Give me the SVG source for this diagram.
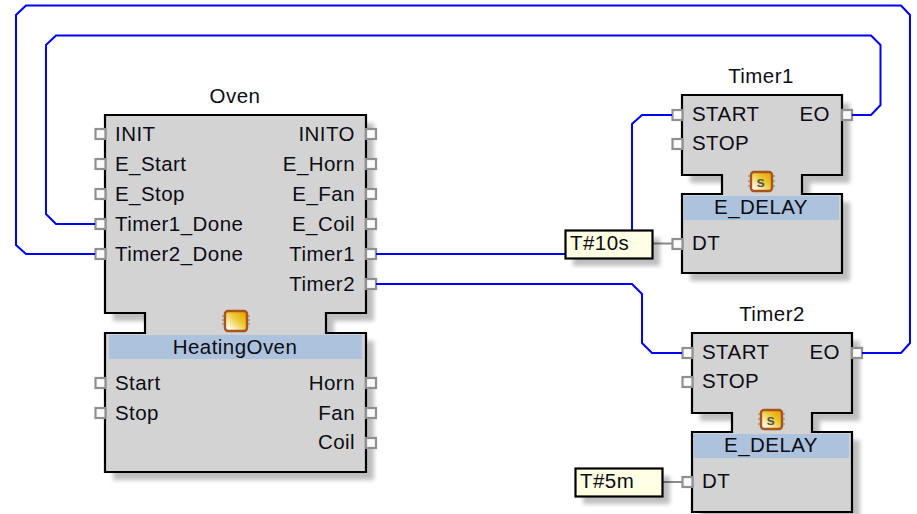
<svg xmlns="http://www.w3.org/2000/svg" width="917" height="514" viewBox="0 0 917 514">
<style>
text{font-family:"Liberation Sans",Arial,sans-serif;font-size:20.5px;letter-spacing:.45px;fill:#0c0c14}
.r{text-anchor:end}
.m{text-anchor:middle}
.body{fill:#d3d3d3;stroke:#000;stroke-width:2.2}
.shadow{fill:#000;opacity:.25;filter:url(#blur)}
.band{fill:#adc2dc}
.port{fill:#fafafa;stroke:#909090;stroke-width:2.200}
.wire{fill:none;stroke:#0000f5;stroke-width:2}
.data{fill:none;stroke:#8a8a8a;stroke-width:2}
.const{fill:#ffffe4;stroke:#000;stroke-width:2.200}
.ico{fill:url(#ig);stroke:#a8541c;stroke-width:2.400}
.pin{fill:none;stroke:#8a7a60;stroke-width:1}
.s{font-size:15px;font-weight:700;fill:#555}
</style>
<defs>
<filter id="blur" x="-10%" y="-10%" width="120%" height="120%"><feGaussianBlur stdDeviation="2"/></filter>
<linearGradient id="ig" x1="0" y1="1" x2="1" y2="0"><stop offset=".1" stop-color="#fff"/><stop offset=".6" stop-color="#ecc62a"/><stop offset="1" stop-color="#e89a00"/></linearGradient>
</defs>
<g id="oven">
<path class="shadow" d="M113 123H374V321H334V341H374V480H113V341H153V321H113Z"/>
<path class="body" d="M105 115H366V313H326V333H366V472H105V333H145V313H105Z"/>
<rect class="band" x="109" y="335" width="253" height="24"/>
<text class="m" x="235" y="103">Oven</text>
<g><path class="pin" d="M222 316h3M222 320h3M222 324h3M247 316h3M247 320h3M247 324h3"/><rect class="ico" x="225" y="311" width="22" height="20" rx="3"/></g>
<text x="115" y="141">INIT</text><text x="115" y="170.500">E_Start</text><text x="115" y="200.500">E_Stop</text><text x="115" y="230.500">Timer1_Done</text><text x="115" y="260.500">Timer2_Done</text>
<text class="r" x="355" y="141">INITO</text><text class="r" x="355" y="170.500">E_Horn</text><text class="r" x="355" y="200.500">E_Fan</text><text class="r" x="355" y="230.500">E_Coil</text><text class="r" x="355" y="260.500">Timer1</text><text class="r" x="355" y="290.500">Timer2</text>
<text class="m" x="235" y="353.500">HeatingOven</text>
<text x="115" y="389.500">Start</text><text x="115" y="419.500">Stop</text>
<text class="r" x="355" y="389.500">Horn</text><text class="r" x="355" y="419.500">Fan</text><text class="r" x="355" y="448.500">Coil</text>
<g>
<rect class="port" x="95.500" y="129" width="10" height="10"/><rect class="port" x="95.500" y="159" width="10" height="10"/><rect class="port" x="95.500" y="189" width="10" height="10"/><rect class="port" x="95.500" y="219" width="10" height="10"/><rect class="port" x="95.500" y="249" width="10" height="10"/>
<rect class="port" x="366" y="129" width="10" height="10"/><rect class="port" x="366" y="159" width="10" height="10"/><rect class="port" x="366" y="189" width="10" height="10"/><rect class="port" x="366" y="219" width="10" height="10"/><rect class="port" x="366" y="249" width="10" height="10"/><rect class="port" x="366" y="279" width="10" height="10"/>
<rect class="port" x="95.500" y="378" width="10" height="10"/><rect class="port" x="95.500" y="408" width="10" height="10"/>
<rect class="port" x="366" y="378" width="10" height="10"/><rect class="port" x="366" y="408" width="10" height="10"/><rect class="port" x="366" y="438" width="10" height="10"/>
</g>
</g>
<g id="timer1">
<path class="shadow" d="M690 103H850V183H810V202H850V281H690V202H730V183H690Z"/>
<path class="body" d="M682 95H842V175H802V194H842V273H682V194H722V175H682Z"/>
<rect class="band" x="684" y="196" width="155" height="24"/>
<text class="m" x="761" y="83">Timer1</text>
<g><path class="pin" d="M748 176h3M748 181h3M748 186h3M772 176h3M772 181h3M772 186h3"/><rect class="ico" x="751" y="172" width="21" height="19" rx="3"/><text class="s m" x="761" y="187">s</text></g>
<text x="692" y="120.500">START</text><text x="692" y="150">STOP</text><text class="r" x="830" y="120.500">EO</text>
<text class="m" x="761" y="214">E_DELAY</text>
<text x="692" y="249.500">DT</text>
<rect class="port" x="672.500" y="110" width="10" height="10"/><rect class="port" x="672.500" y="139" width="10" height="10"/><rect class="port" x="672.500" y="239" width="10" height="10"/><rect class="port" x="842" y="110" width="10" height="10"/>
</g>
<g id="timer2">
<path class="shadow" d="M700 341H860V421H820V440H860V519H700V440H740V421H700Z"/>
<path class="body" d="M692 333H852V413H812V432H852V512H692V432H732V413H692Z"/>
<rect class="band" x="694" y="434" width="155" height="24"/>
<text class="m" x="772" y="321">Timer2</text>
<g><path class="pin" d="M758 414h3M758 419h3M758 424h3M782 414h3M782 419h3M782 424h3"/><rect class="ico" x="761" y="410" width="21" height="19" rx="3"/><text class="s m" x="771" y="425">s</text></g>
<text x="702" y="359">START</text><text x="702" y="388">STOP</text><text class="r" x="840" y="359">EO</text>
<text class="m" x="771" y="452">E_DELAY</text>
<text x="702" y="488">DT</text>
<rect class="port" x="682.500" y="348" width="10" height="10"/><rect class="port" x="682.500" y="377" width="10" height="10"/><rect class="port" x="682.500" y="477" width="10" height="10"/><rect class="port" x="852" y="348" width="10" height="10"/>
</g>
<g id="connectors">
<path class="wire" d="M95 254H26L16 245V15L26 5.500H901L910 15V343L901 353H862"/>
<path class="wire" d="M95 224H56L46 214V45L56 35.500H871L880.500 45V105L871 115H852"/>
<path class="wire" d="M376 254H565"/>
<path class="wire" d="M632 230V124L642 115H672"/>
<path class="wire" d="M376 284H632L642 294V343L652 353H682"/>
<path class="data" d="M652 243.500H672"/>
<path class="data" d="M662 482H682"/>
</g>
<g id="const-10s">
<rect class="shadow" x="573" y="238" width="87" height="28"/>
<rect class="const" x="565.500" y="230.500" width="87" height="28"/>
<text x="570" y="250">T#10s</text>
</g>
<g id="const-5m">
<rect class="shadow" x="583" y="476" width="87" height="28"/>
<rect class="const" x="575.500" y="468.500" width="87" height="28"/>
<text x="580" y="488">T#5m</text>
</g>
</svg>
